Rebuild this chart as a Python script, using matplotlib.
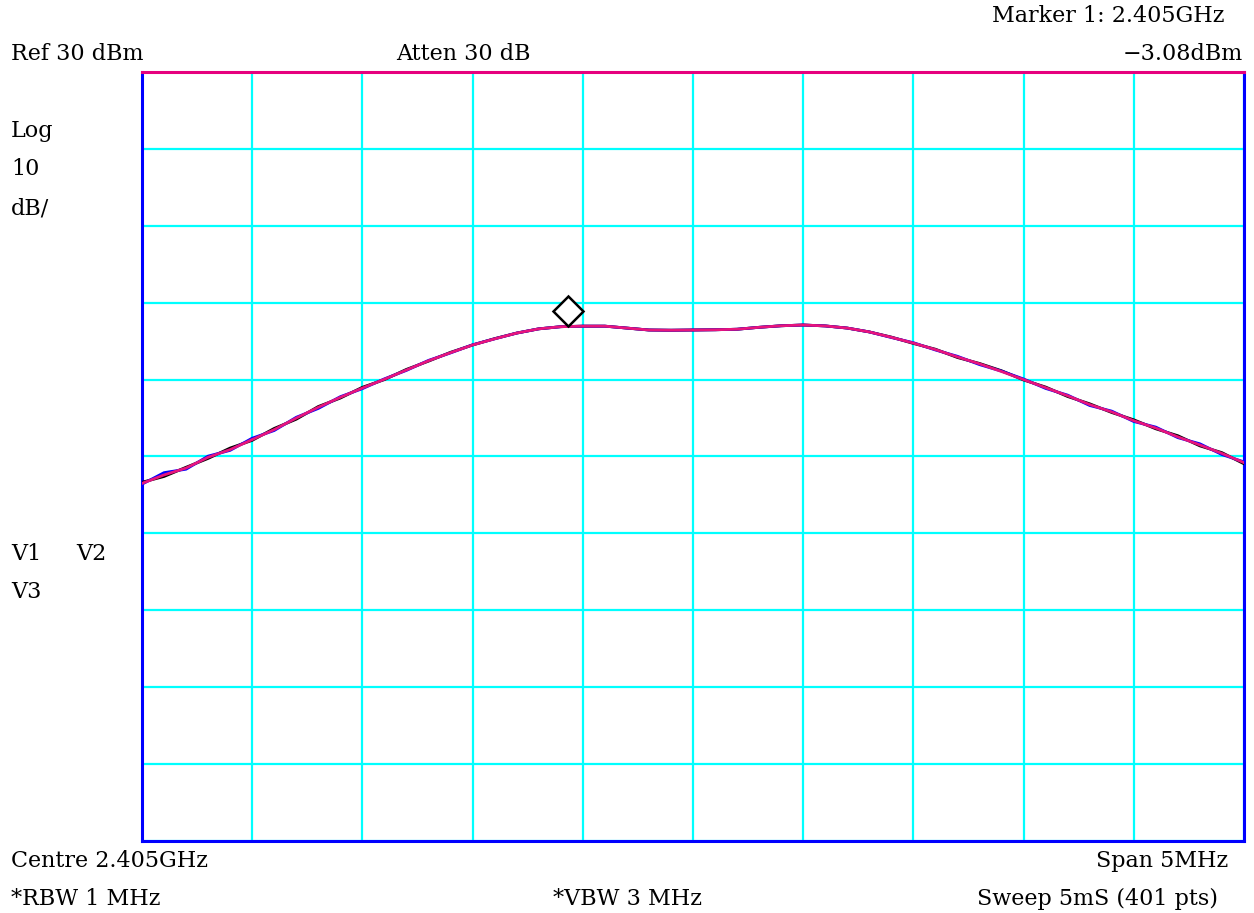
import matplotlib
matplotlib.use("Agg")
import matplotlib.pyplot as plt
from matplotlib.transforms import offset_copy

# Sweep frequencies (MHz), 2.4025 GHz .. 2.4075 GHz
freq_mhz = [2402.5 + 0.1 * i for i in range(51)]

# Trace levels (dBm)
trace_magenta = [
    -23.5, -22.4, -21.5, -20.1, -19.1, -17.8, -16.5, -15.0, -13.6, -12.3,
    -11.1, -9.95, -8.75, -7.55, -6.5, -5.5, -4.7, -3.95, -3.4, -3.12,
    -3.05, -3.05, -3.3, -3.55, -3.58, -3.55, -3.52, -3.45, -3.2, -3.0,
    -2.9, -3.02, -3.3, -3.8, -4.5, -5.25, -6.1, -7.05, -7.95, -8.95,
    -10.0, -11.05, -12.1, -13.25, -14.2, -15.35, -16.3, -17.45, -18.5, -19.6,
    -20.8,
]
delta_black = [
    0.15, -0.2, 0.1, -0.15, 0.2, -0.1, 0.15, -0.15, 0.1, -0.1,
    0.1, -0.05, 0.08, -0.05, 0.05, 0.0, 0.03, 0.0, 0.0, 0.0,
    0.0, 0.0, 0.0, 0.0, 0.0, 0.0, 0.0, 0.0, 0.0, 0.0,
    0.0, 0.0, 0.0, 0.0, 0.03, -0.05, 0.05, -0.08, 0.05, 0.1,
    -0.05, 0.08, -0.1, 0.1, -0.08, 0.12, -0.1, 0.15, -0.12, 0.1,
    -0.15,
]
delta_blue = [
    -0.1, 0.3, -0.15, 0.15, -0.1, 0.18, -0.12, 0.1, -0.15, 0.08,
    -0.08, 0.05, -0.05, 0.05, -0.03, 0.03, 0.0, 0.0, 0.0, 0.0,
    0.0, 0.0, 0.0, 0.0, 0.0, 0.0, 0.0, 0.0, 0.0, 0.0,
    0.0, 0.0, 0.0, 0.0, -0.03, 0.05, -0.05, 0.08, -0.1, 0.05,
    0.08, -0.1, 0.08, -0.12, 0.1, -0.1, 0.12, -0.1, 0.15, -0.15,
    0.1,
]
trace_black = [m + d for m, d in zip(trace_magenta, delta_black)]
trace_blue = [m + d for m, d in zip(trace_magenta, delta_blue)]

marker_freq = 2404.435
marker_level = -3.08

ref_level = 30
db_per_div = 10
n_div = 10

W, H = 1254, 913
fig = plt.figure(figsize=(W / 100, H / 100), dpi=100)
ax = fig.add_axes([142 / W, (H - 841) / H, 1102 / W, 769 / H])

f0, f1 = freq_mhz[0], freq_mhz[-1]
ax.set_xlim(f0, f1)
ax.set_ylim(ref_level - n_div * db_per_div, ref_level)
ax.set_xticks([f0 + (f1 - f0) * i / n_div for i in range(n_div + 1)])
ax.set_yticks([ref_level - db_per_div * i for i in range(n_div + 1)])
ax.tick_params(length=0, labelbottom=False, labelleft=False)
ax.grid(True, color="#00ffff", linewidth=1.6)
ax.set_axisbelow(True)

for side in ("left", "right", "bottom"):
    ax.spines[side].set_color("#0000ff")
    ax.spines[side].set_linewidth(2.2)
ax.spines["top"].set_color("#e6007e")
ax.spines["top"].set_linewidth(2.2)
ax.spines["top"].set_zorder(5)

ax.plot(freq_mhz, trace_black, color="black", linewidth=2.0, zorder=3)
ax.plot(freq_mhz, trace_blue, color="#0000ff", linewidth=2.0, zorder=3)
ax.plot(freq_mhz, trace_magenta, color="#e8147c", linewidth=2.0, zorder=4)

# Marker diamond sits just above the trace point
mk_tr = offset_copy(ax.transData, fig=fig, x=0, y=15, units="dots")
ax.plot([marker_freq], [marker_level], marker="D", markersize=15,
        markerfacecolor="white", markeredgecolor="black", markeredgewidth=1.8,
        transform=mk_tr, zorder=6, clip_on=False)

font = dict(family=["DejaVu Serif"], fontsize=16, color="black")


def label(x, y, s, ha="left"):
    fig.text(x / W, 1 - y / H, s, ha=ha, va="center", **font)


label(1225, 16, "Marker 1: 2.405GHz", ha="right")
label(11, 54, "Ref 30 dBm")
label(396, 54, "Atten 30 dB")
label(1243, 54, "\u22123.08dBm", ha="right")
label(11, 131, "Log")
label(11, 169, "10")
label(11, 208, "dB/")
label(11, 554, "V1")
label(76, 554, "V2")
label(11, 592, "V3")
label(11, 861, "Centre 2.405GHz")
label(1228, 861, "Span 5MHz", ha="right")
label(11, 899, "*RBW 1 MHz")
label(553, 899, "*VBW 3 MHz")
label(1218, 899, "Sweep 5mS (401 pts)", ha="right")

fig.savefig("out.png", dpi=100)
